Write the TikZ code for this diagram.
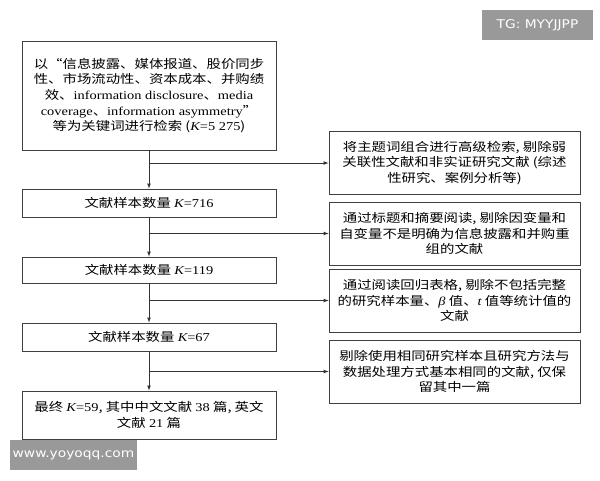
\documentclass[tikz,border=0pt]{standalone}
\usepackage{fontspec}
\setmainfont[FakeStretch=1.2]{Noto Sans CJK SC}
\newfontfamily\en[FakeStretch=1.2]{Liberation Serif}
\newfontfamily\wm[FakeStretch=1.15]{DejaVu Sans}
\usetikzlibrary{arrows}

\tikzset{
  flowbox/.style={draw=black!75, line width=0.8pt, align=center,
                  inner sep=0pt, font=\fontsize{12}{15.7}\selectfont},
  leftbox/.style={flowbox, minimum width=254pt},
  rightbox/.style={flowbox, minimum width=251pt, minimum height=63pt},
  flowline/.style={draw=black!80, line width=0.7pt, -latex},
  watermark/.style={fill=black!40, text=white, inner sep=0pt, font=\wm\fontsize{12}{13}\selectfont}
}

\begin{document}
\begin{tikzpicture}[x=1pt,y=-1pt]
                \useasboundingbox (0,0) rectangle (600,480);
                % left column
                \node [leftbox, minimum height=109pt] (search) at (149,95.5)
                  {以“信息披露、媒体报道、股价同步\\性、市场流动性、资本成本、并购绩\\效、{\en information disclosure}、{\en media}\\{\en coverage}、{\en information asymmetry}”\\等为关键词进行检索 ({\en\itshape K}{\en =5 275})};
                \node [leftbox, minimum height=28pt] (k716) at (149,203) {文献样本数量 {\en\itshape K}{\en =716}};
                \node [leftbox, minimum height=26pt] (k119) at (149,270) {文献样本数量 {\en\itshape K}{\en =119}};
                \node [leftbox, minimum height=28pt] (k67) at (149,337) {文献样本数量 {\en\itshape K}{\en =67}};
                \node [leftbox, minimum height=48pt] (final) at (149,415)
                  {最终 {\en\itshape K}{\en =59}, 其中中文文献 {\en 38} 篇, 英文\\文献 {\en 21} 篇};
                % right column
                \node [rightbox] (drop1) at (454.5,163)
                  {将主题词组合进行高级检索, 剔除弱\\关联性文献和非实证研究文献 (综述\\性研究、案例分析等)};
                \node [rightbox] (drop2) at (454.5,233.5)
                  {通过标题和摘要阅读, 剔除因变量和\\自变量不是明确为信息披露和并购重\\组的文献};
                \node [rightbox] (drop3) at (454.5,300.5)
                  {通过阅读回归表格, 剔除不包括完整\\的研究样本量、{\en\itshape β} 值、{\en\itshape t} 值等统计值的\\文献};
                \node [rightbox] (drop4) at (454.5,371.5)
                  {剔除使用相同研究样本且研究方法与\\数据处理方式基本相同的文献, 仅保\\留其中一篇};
                % connectors
                \draw [flowline] (search) -- (k716);
                \draw [flowline] (k716) -- (k119);
                \draw [flowline] (k119) -- (k67);
                \draw [flowline] (k67) -- (final);
                \draw [flowline] (search.south |- drop1.west) -- (drop1.west);
                \draw [flowline] (k716.south |- drop2.west) -- (drop2.west);
                \draw [flowline] (k119.south |- drop3.west) -- (drop3.west);
                \draw [flowline] (k67.south |- drop4.west) -- (drop4.west);
                % watermarks
                \node [watermark, minimum width=111pt, minimum height=30pt] (tg) at (537.5,25) {TG: MYYJJPP};
                \node [watermark, minimum width=127pt, minimum height=30pt] (www) at (73.5,455) {www.yoyoqq.com};
\end{tikzpicture}
\end{document}
